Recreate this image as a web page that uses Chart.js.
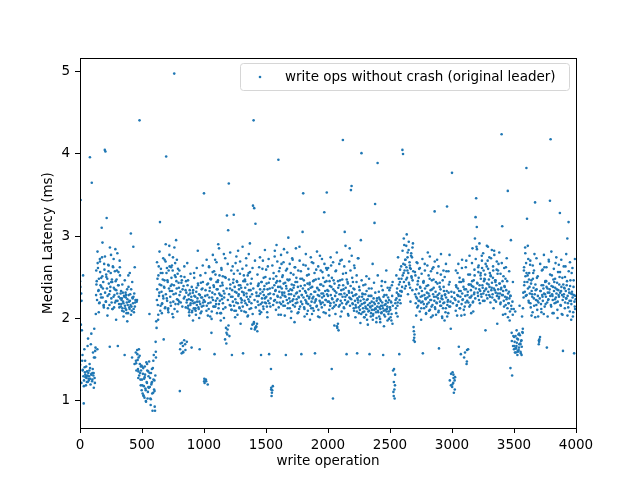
<!DOCTYPE html>
<html>
<head>
<meta charset="utf-8">
<script src="https://cdn.jsdelivr.net/npm/chart.js@4.4.1/dist/chart.umd.min.js"></script>
<style>
  html, body { margin: 0; padding: 0; background: #fff; }
  #wrap { width: 640px; height: 480px; position: relative; }
</style>
</head>
<body>
<div id="wrap"><canvas id="chart-latency"></canvas></div>
<script>
/* ============================
   DATA (median latency in ms, sampled write ops)
   ============================ */
const opStep = 5;
const wideStep = 10;
const segmentSize = 500;
const xTicks = [0, 500, 1000, 1500, 2000, 2500, 3000, 3500, 4000];
const yTicks = [1, 2, 3, 4, 5];
const seriesLabel = 'write ops without crash (original leader)';

// first sample of each 5-op window
// ops 0 - 495
const latency0 = [2.45,3.44,2.30,1.85,1.55,2.52,0.96,1.62,1.34,1.28,1.41,1.22,1.30,1.75,1.26,1.36,3.96,1.19,1.31,3.65,
  1.25,1.58,1.33,1.87,1.21,1.64,2.28,2.45,1.62,2.61,2.34,2.18,2.72,2.40,2.25,3.10,2.51,2.36,2.15,2.66,
  4.05,4.03,2.20,3.22,2.48,2.12,2.57,2.29,1.65,2.38,2.77,2.19,2.44,2.63,2.26,2.13,2.35,2.84,2.21,2.47,
  2.30,1.66,2.56,2.17,2.70,2.24,2.14,2.22,2.09,2.31,2.18,2.27,1.55,2.12,2.25,2.06,2.35,2.16,2.52,2.20,
  2.11,2.29,3.03,2.14,1.52,2.24,2.87,2.07,1.44,2.19,1.58,1.36,2.22,1.49,1.27,1.62,4.41,1.33,1.18,1.42];
// ops 500 - 995
const latency1 = [1.25,1.08,1.39,1.17,1.03,1.31,1.12,1.46,1.21,1.02,1.35,1.15,2.05,1.27,0.94,1.19,1.38,0.87,1.09,1.55,
  1.24,0.87,1.71,1.96,2.22,2.48,1.98,2.63,2.31,3.17,2.15,2.40,2.06,2.55,2.27,1.74,2.37,2.12,2.69,3.97,
  2.24,2.46,2.10,2.58,2.88,2.33,2.19,2.62,2.41,2.05,2.74,2.29,4.98,2.52,2.17,2.95,2.36,2.08,2.60,2.43,
  2.20,1.11,2.32,2.51,1.57,2.14,1.66,2.39,1.73,2.26,1.61,2.45,2.19,2.67,2.12,2.28,2.07,2.34,2.16,2.22,
  1.64,2.09,2.31,2.18,2.55,2.11,2.26,2.04,2.37,2.20,2.82,2.13,2.29,1.62,2.17,2.43,2.08,2.25,2.64,2.15];
// ops 1000 - 1495
const latency2 = [3.52,1.21,2.27,1.25,2.09,2.41,1.19,2.18,2.63,2.33,2.02,2.47,1.82,2.25,2.56,2.14,2.38,1.56,2.71,2.21,
  2.44,2.06,2.35,2.90,2.17,2.52,2.28,1.97,2.61,2.23,2.40,2.11,2.78,2.30,1.74,2.49,1.69,3.25,1.86,3.07,
  3.64,1.78,2.36,2.15,2.58,1.55,2.26,2.43,3.26,2.09,2.32,2.67,2.19,2.45,2.04,2.82,2.29,2.13,2.54,1.93,
  2.37,2.22,2.60,1.57,2.31,2.08,2.47,2.18,2.73,2.26,2.41,2.03,2.55,2.20,2.91,2.34,2.12,2.48,1.92,3.37,
  4.41,3.34,1.86,3.15,1.90,2.27,1.84,2.39,2.16,2.62,2.05,2.30,1.55,2.44,2.19,2.70,2.11,2.35,2.24,2.50];
// ops 1500 - 1995
const latency3 = [2.18,2.42,2.07,2.63,2.29,1.56,2.36,2.14,1.38,1.05,1.12,1.17,2.48,2.21,2.75,2.33,2.10,2.89,2.45,2.26,
  3.93,2.57,2.19,2.38,2.04,2.66,2.31,2.52,2.15,2.84,2.27,2.43,1.55,2.36,2.60,2.12,2.98,2.29,2.47,2.20,
  2.55,2.08,2.34,2.71,2.23,2.40,1.95,2.62,2.18,2.49,2.31,2.06,2.58,2.25,2.87,2.14,2.39,1.56,2.28,3.05,
  3.52,2.46,2.11,2.33,2.64,2.20,2.05,2.42,2.17,2.53,2.26,1.98,2.37,2.12,2.68,2.24,2.45,2.09,2.32,1.57,
  2.21,2.59,2.15,2.36,2.02,2.48,2.27,2.76,2.19,2.41,2.13,2.56,2.30,2.07,3.29,2.44,2.22,2.61,3.53,2.34];
// ops 2000 - 2495
const latency4 = [2.27,2.52,2.10,2.39,2.18,2.64,1.38,2.23,1.02,2.46,2.14,2.33,2.05,2.58,2.21,1.88,1.93,1.85,2.40,2.16,
  2.70,2.29,2.08,2.47,4.17,2.35,2.12,3.05,2.26,2.55,1.56,2.19,2.42,2.03,2.31,2.85,2.24,3.56,3.61,2.49,
  2.17,2.36,2.09,2.61,2.28,2.13,2.44,1.57,2.22,2.73,2.06,2.34,2.15,2.95,4.01,2.26,2.07,2.40,2.18,2.01,
  2.29,2.12,2.51,1.98,2.23,2.08,2.36,1.56,2.14,2.02,2.27,2.10,2.66,2.05,2.19,3.16,3.39,2.11,1.95,2.24,
  3.89,2.07,2.32,2.13,1.99,2.21,2.06,2.45,2.15,1.55,2.09,2.28,2.02,2.17,2.58,2.11,1.97,2.25,2.08,2.34];
// ops 2500 - 2995
const latency5 = [2.13,2.01,2.19,2.40,1.93,1.36,1.05,1.13,1.18,2.22,2.06,2.31,2.15,2.74,2.27,1.56,2.44,2.18,2.63,2.32,
  4.05,4.00,2.55,2.89,2.36,2.71,2.47,3.02,2.58,2.29,2.83,2.41,2.64,2.20,2.76,2.49,2.34,2.91,1.89,1.76,
  1.71,2.52,2.26,2.68,2.13,2.45,2.21,2.60,2.08,2.37,2.19,2.54,2.27,1.57,2.43,2.12,2.66,2.24,2.05,2.39,
  2.17,2.80,2.30,2.09,2.48,2.22,2.57,2.14,2.35,2.03,2.62,2.26,3.30,2.11,2.44,2.19,2.71,2.28,2.07,1.63,
  2.38,2.15,2.53,2.24,2.02,2.46,2.18,2.33,1.97,2.29,2.12,2.57,3.36,2.20,2.06,2.41,2.77,2.14,1.87,2.32];
// ops 3000 - 3495
const latency6 = [3.77,1.34,1.21,1.09,2.24,1.28,2.09,2.38,2.16,2.55,2.27,1.65,2.44,2.12,2.33,2.03,2.61,2.22,2.47,2.10,
  2.35,1.58,2.19,2.70,1.47,2.28,1.62,2.41,2.14,2.53,2.25,2.06,2.39,2.85,2.20,2.46,2.31,2.97,3.23,3.46,
  3.11,2.42,2.27,2.64,2.35,2.18,2.52,2.29,2.76,2.40,2.21,2.58,2.33,2.47,1.85,2.36,2.63,2.24,2.87,2.41,
  2.28,2.55,2.19,2.73,2.37,2.25,2.49,2.12,2.82,2.34,2.44,2.20,2.59,1.93,2.30,2.66,2.26,2.42,2.17,2.35,
  4.24,3.12,2.28,2.51,2.14,2.38,2.05,2.62,2.23,2.45,3.55,2.18,2.32,1.97,2.27,2.95,2.11,1.30,2.04,1.78];
// ops 3500 - 3995
const latency7 = [1.62,1.71,2.08,1.58,1.66,1.75,1.60,1.80,1.64,2.15,1.69,1.57,1.73,2.02,1.82,2.31,2.58,2.44,2.86,2.27,
  3.83,3.21,2.52,2.72,2.19,2.38,2.65,2.13,2.46,2.29,2.07,2.55,2.24,2.78,3.41,2.34,2.16,2.49,2.21,2.02,
  1.68,1.74,1.77,2.33,2.11,2.58,2.26,2.40,2.05,2.62,2.29,2.17,2.45,1.64,2.36,2.22,2.71,2.31,3.43,4.18,
  2.14,2.52,2.27,2.38,2.06,2.44,2.23,2.67,2.19,2.35,2.10,2.56,2.28,2.41,3.28,2.16,2.33,2.05,2.49,1.60,
  2.26,2.37,2.12,2.63,2.24,2.40,2.97,2.18,3.17,2.31,2.08,2.46,2.21,2.55,2.29,2.02,2.38,1.57,2.14,2.27];

// second sample of each 5-op window (offset 2.5 ops)
const latency0b = [2.38,1.92,2.21,1.48,1.37,1.29,1.24,1.40,1.31,1.18,1.27,1.35,1.22,1.33,1.29,1.44,1.26,1.68,1.32,1.23,
  1.38,1.30,1.52,1.27,1.60,2.05,2.41,2.22,2.67,2.33,2.48,2.19,2.56,2.29,2.38,2.74,2.25,2.44,2.13,2.59,
  2.31,2.20,2.50,2.36,2.27,2.65,2.42,2.16,2.33,2.55,2.24,2.47,2.11,2.62,2.37,2.28,2.19,2.45,2.34,2.58,
  2.21,2.40,2.26,2.13,2.52,2.30,2.17,2.24,2.12,2.20,2.08,2.26,2.15,2.31,2.10,2.19,2.23,2.06,2.28,2.13,
  2.21,2.16,2.35,2.09,2.25,2.18,2.11,2.30,2.14,2.22,1.45,2.20,1.56,1.38,1.52,1.30,1.44,1.25,1.36,1.12];
const latency1b = [1.18,1.32,1.05,1.26,1.41,1.14,0.98,1.22,1.36,1.10,1.29,1.47,1.16,1.02,1.33,1.21,1.08,1.39,1.25,1.13,
  0.92,1.30,1.52,1.88,2.35,2.16,2.52,2.27,2.41,2.09,2.60,2.32,2.18,2.47,2.24,2.38,2.71,2.13,2.29,2.55,
  2.21,2.44,2.07,2.36,2.63,2.26,2.15,2.49,2.33,2.58,2.20,2.40,2.11,2.67,2.30,2.45,2.23,2.54,2.17,2.37,
  2.28,1.62,2.19,2.43,1.70,2.35,1.58,2.24,2.50,1.68,2.13,2.31,2.22,2.40,2.15,2.23,2.10,2.30,2.18,2.26,
  2.07,2.21,2.34,2.12,2.27,2.19,2.09,2.32,2.16,2.24,2.40,2.11,2.20,2.28,2.06,2.25,2.14,2.36,2.19,2.22];
const latency2b = [1.26,2.20,2.34,1.23,2.15,2.28,2.42,2.11,2.25,2.37,2.19,2.48,2.08,2.31,2.22,2.40,2.14,2.29,2.53,2.17,
  2.35,2.24,2.46,2.12,2.30,2.21,2.39,2.06,2.27,2.43,2.18,2.33,2.25,2.50,2.13,1.88,2.36,1.80,2.22,1.91,
  2.29,2.16,2.41,2.26,2.10,2.34,2.20,2.47,2.15,2.38,2.23,2.09,2.31,2.44,2.18,2.27,2.35,2.12,2.40,2.24,
  2.19,2.32,2.14,2.45,2.28,2.21,2.37,2.07,2.30,2.16,2.52,2.23,2.34,2.11,2.26,2.42,2.18,2.29,2.05,2.36,
  1.95,2.22,1.88,2.13,2.31,1.93,2.20,2.40,2.27,2.09,2.35,2.17,2.44,2.24,2.32,2.14,2.28,2.39,2.19,2.25];
const latency3b = [2.26,2.14,2.35,2.21,2.43,2.18,2.30,2.24,1.15,1.09,2.37,2.16,2.29,2.40,2.22,2.34,2.51,2.19,2.27,2.38,
  2.13,2.32,2.45,2.25,2.17,2.36,2.28,2.20,2.42,2.31,2.15,2.26,2.39,2.22,2.47,2.18,2.33,2.24,2.12,2.35,
  2.29,2.41,2.21,2.16,2.37,2.27,2.14,2.44,2.30,2.23,2.19,2.38,2.26,2.11,2.33,2.48,2.20,2.28,2.17,2.36,
  2.25,2.13,2.40,2.22,2.31,2.18,2.27,2.09,2.35,2.24,2.43,2.15,2.29,2.20,2.38,2.12,2.26,2.46,2.19,2.32,
  2.23,2.14,2.37,2.28,2.10,2.34,2.21,2.41,2.17,2.30,2.25,2.19,2.39,2.27,2.16,2.33,2.22,2.45,2.29,2.20];
const latency4b = [2.33,2.20,2.45,2.15,2.28,2.38,2.24,2.12,2.35,2.19,2.42,2.27,2.16,2.31,1.90,2.23,2.37,2.14,2.29,2.46,
  2.21,2.34,2.18,2.26,2.40,2.13,2.30,2.22,2.37,2.17,2.28,2.44,2.20,2.33,2.25,2.15,2.39,2.23,2.31,2.18,
  2.27,2.12,2.35,2.21,2.16,2.29,2.08,2.24,2.19,2.13,2.26,2.10,2.21,2.05,2.17,2.30,2.12,2.23,2.08,2.19,
  2.14,2.04,2.22,2.11,2.16,2.27,2.09,2.18,2.13,2.06,2.20,2.15,2.03,2.24,2.10,2.17,2.12,2.07,2.21,2.14,
  2.09,2.18,2.02,2.23,2.11,2.15,2.07,2.19,2.12,2.26,2.04,2.16,2.10,2.21,2.08,2.14,2.19,2.05,2.22,2.13];
const latency5b = [2.10,2.20,2.05,2.27,2.15,1.10,1.38,1.02,2.18,2.12,2.24,2.36,2.19,2.29,2.41,2.22,2.33,2.27,2.48,2.38,
  2.52,2.66,2.44,2.58,2.71,2.39,2.62,2.49,2.80,2.55,2.43,2.68,2.37,2.60,2.51,2.74,2.46,2.57,1.84,1.80,
  2.29,2.18,2.35,2.24,2.41,2.15,2.30,2.21,2.38,2.26,2.12,2.33,2.20,2.44,2.17,2.28,2.36,2.23,2.14,2.31,
  2.25,2.40,2.19,2.27,2.10,2.34,2.22,2.46,2.16,2.29,2.37,2.21,2.13,2.32,2.26,2.18,2.42,2.24,2.09,2.30,
  2.20,2.35,2.15,2.27,2.23,2.12,2.38,2.19,2.28,2.07,2.25,2.33,2.16,2.22,2.31,2.14,1.24,2.20,1.32,2.26];
const latency6b = [1.19,2.18,1.27,2.31,1.13,2.22,2.40,2.15,2.28,2.36,2.20,2.33,2.12,2.26,2.44,2.17,2.30,2.23,2.38,1.52,
  2.14,2.27,2.35,1.44,2.21,2.32,2.19,2.41,2.25,2.16,2.34,2.27,2.45,2.19,2.38,2.29,2.52,2.24,2.36,2.87,
  2.43,2.31,2.56,2.22,2.40,2.33,2.48,2.26,2.61,2.37,2.30,2.45,2.21,2.53,2.35,2.28,2.42,2.70,2.32,2.47,
  2.38,2.26,2.51,2.34,2.43,2.29,2.58,2.36,2.22,2.46,2.31,2.40,2.27,2.54,2.35,2.24,2.42,2.30,2.19,2.37,
  2.28,2.45,2.33,2.21,2.39,2.26,2.16,2.34,2.25,2.12,2.30,2.18,2.24,2.08,2.27,2.15,1.72,2.20,1.66,2.11];
const latency7b = [1.66,1.58,1.78,1.63,1.70,1.55,1.74,1.61,1.68,1.79,1.59,1.72,1.65,1.83,2.12,2.25,2.40,2.32,2.51,2.67,
  2.28,2.44,2.36,2.21,2.55,2.30,2.18,2.42,2.33,2.26,2.48,2.37,2.15,2.29,2.41,2.22,2.35,2.10,2.27,2.19,
  1.71,2.24,2.33,2.17,2.40,2.28,2.21,2.36,2.30,2.14,2.45,2.26,2.38,2.19,2.31,2.23,2.42,2.35,2.27,2.16,
  2.39,2.29,2.22,2.47,2.33,2.18,2.37,2.25,2.30,2.43,2.20,2.34,2.26,2.50,2.31,2.15,2.38,2.28,2.22,2.41,
  2.29,2.36,2.19,2.33,2.24,2.45,2.27,2.13,2.35,2.21,2.39,2.30,2.17,2.32,2.25,2.07,2.28,2.20,2.11,2.23];

// wider-spread samples, one per 10 ops (offset 1.25 ops)
const latency0c = [1.43,1.21,1.36,1.17,1.48,1.29,1.66,1.24,1.39,1.81,1.33,1.15,1.52,
  2.58,2.81,2.07,2.69,2.49,2.92,2.16,2.75,2.53,2.03,2.64,2.86,2.44,2.11,2.72,2.57,1.98,2.79,2.40,2.62,
  2.33,2.41,2.02,2.46,2.28,1.96,2.38,2.55,2.04,2.44,2.26,2.62,1.48,1.61,1.35,1.54,1.41];
const latency1c = [1.41,1.06,1.28,0.99,1.44,1.16,1.33,1.01,1.22,1.48,1.11,1.59,
  2.68,2.04,2.81,2.55,2.17,2.73,2.46,2.90,2.61,2.12,2.77,2.39,2.64,2.01,2.86,2.50,2.71,2.22,
  2.58,1.69,2.46,1.59,2.63,2.34,1.71,2.46,2.03,2.54,2.38,1.97,2.49,2.12,2.61,2.42,2.00,2.52,2.35,2.44];
const latency2c = [1.23,2.55,2.71,2.03,2.62,2.48,1.99,2.77,2.57,2.14,2.68,2.44,2.85,2.06,2.59,2.51,2.00,2.73,1.82,2.66,
  2.47,2.80,2.10,2.63,2.54,2.01,2.75,2.58,2.40,2.69,2.09,2.87,2.52,2.45,2.64,2.02,2.78,2.56,1.87,2.61,
  1.93,2.70,1.89,2.53,2.42,2.74,2.07,2.60,2.49,2.83];
const latency3c = [2.59,2.01,2.72,2.48,1.13,2.64,2.55,2.82,2.43,2.69,2.04,2.61,2.77,2.50,2.68,2.03,2.58,2.80,2.46,2.66,
  2.00,2.73,2.53,2.62,2.85,2.44,2.07,2.70,2.57,2.48,2.65,2.02,2.78,2.52,2.60,2.41,2.74,2.05,2.67,2.55,
  2.47,2.81,2.63,2.01,2.58,2.72,2.49,2.66,2.06,2.59];
const latency4c = [2.61,2.03,2.74,2.49,2.68,1.91,2.57,2.80,2.45,2.66,2.02,2.71,2.54,2.63,2.88,2.47,2.05,2.69,2.58,2.76,
  2.44,2.64,2.01,2.52,2.73,2.38,1.94,2.46,2.29,2.01,2.41,2.33,1.92,2.48,2.27,2.36,1.98,2.43,2.31,2.00,
  2.52,2.25,1.95,2.39,2.34,1.90,2.44,2.28,2.37,1.99];
const latency5c = [2.37,1.97,2.44,1.22,1.31,2.52,2.02,2.48,2.59,2.33,2.82,2.97,2.65,2.88,2.74,2.93,2.61,2.79,2.86,1.73,
  2.56,2.03,2.67,2.49,2.61,1.98,2.72,2.45,2.58,2.06,2.64,2.52,2.75,2.01,2.60,2.47,2.69,2.04,2.55,2.63,
  2.43,2.78,2.00,2.58,2.50,2.66,2.02,2.57,2.44,1.18];
const latency6c = [1.16,1.31,1.24,2.58,2.03,2.66,2.49,1.56,2.71,2.45,2.04,2.62,1.61,2.53,2.76,2.41,2.67,2.08,2.59,2.72,
  2.84,2.62,2.91,2.55,2.70,2.79,2.48,2.66,2.88,2.60,2.74,2.52,2.83,2.63,2.77,2.46,2.69,2.58,2.80,2.54,
  2.67,2.04,2.61,2.48,2.73,2.01,2.57,1.39,1.82,2.44];
const latency7c = [1.77,1.63,1.85,1.59,1.81,1.68,1.55,1.87,
  2.62,2.79,2.55,2.88,2.47,2.70,2.03,2.64,2.58,2.01,2.73,2.51,1.73,2.66,2.07,2.59,2.77,2.44,2.62,2.02,
  2.69,2.53,2.81,2.06,2.60,2.48,2.74,2.00,2.65,2.56,2.71,2.04,2.63,2.50,2.78,2.03,2.57,2.68,1.98,2.61,2.46,2.72];

const firstSamples = [latency0, latency1, latency2, latency3, latency4, latency5, latency6, latency7];
const secondSamples = [latency0b, latency1b, latency2b, latency3b, latency4b, latency5b, latency6b, latency7b];
const wideSamples = [latency0c, latency1c, latency2c, latency3c, latency4c, latency5c, latency6c, latency7c];

/* ============================
   CHART SETUP
   ============================ */
const BLUE = '#1f77b4';
const FONT = 'DejaVu Sans';

function buildPoints() {
  const pts = [];
  firstSamples.forEach((seg, s) => {
    const base = s * segmentSize;
    seg.forEach((v, i) => pts.push({ x: base + i * opStep, y: v }));
    secondSamples[s].forEach((v, i) => pts.push({ x: base + i * opStep + opStep / 2, y: v }));
    wideSamples[s].forEach((v, i) => pts.push({ x: base + i * wideStep + 1.25, y: v }));
  });
  return pts;
}

// matplotlib-style closed frame and boxed legend inside the axes
const framePlugin = {
  id: 'frame',
  afterDraw(chart) {
    const { ctx, chartArea: a } = chart;
    ctx.save();
    ctx.strokeStyle = '#000';
    ctx.lineWidth = 1;
    ctx.strokeRect(Math.round(a.left) + 0.5, Math.round(a.top) + 0.5, Math.round(a.right - a.left), Math.round(a.bottom - a.top));

    // legend box
    const bx = 240.5, by = 63.5, bw = 329, bh = 27, r = 3;
    ctx.beginPath();
    ctx.moveTo(bx + r, by);
    ctx.arcTo(bx + bw, by, bx + bw, by + bh, r);
    ctx.arcTo(bx + bw, by + bh, bx, by + bh, r);
    ctx.arcTo(bx, by + bh, bx, by, r);
    ctx.arcTo(bx, by, bx + bw, by, r);
    ctx.closePath();
    ctx.fillStyle = 'rgba(255,255,255,0.8)';
    ctx.fill();
    ctx.strokeStyle = '#d6d6d6';
    ctx.stroke();

    ctx.fillStyle = BLUE;
    ctx.beginPath();
    ctx.arc(260, 77, 1.3, 0, Math.PI * 2);
    ctx.fill();

    ctx.fillStyle = '#000';
    ctx.font = `13.5px "${FONT}"`;
    ctx.textBaseline = 'middle';
    ctx.textAlign = 'left';
    ctx.fillText(seriesLabel, 285, 77);
    ctx.restore();
  }
};

const axisStyle = {
  grid: { display: true, drawOnChartArea: false, drawTicks: true, tickLength: 5, color: '#000', lineWidth: 1 },
  border: { display: true, color: '#000', width: 1 },
  ticks: { color: '#000', font: { size: 13.5, family: FONT }, padding: 4, maxRotation: 0, autoSkip: false, callback: v => String(v) }
};

new Chart(document.getElementById('chart-latency'), {
  type: 'scatter',
  data: {
    datasets: [{
      label: seriesLabel,
      data: buildPoints(),
      backgroundColor: BLUE,
      borderWidth: 0,
      pointRadius: 1.3,
      pointHoverRadius: 1.3
    }]
  },
  options: {
    responsive: true,
    maintainAspectRatio: false,
    devicePixelRatio: 1,
    animation: false,
    layout: { padding: { top: 58, right: 64, bottom: 0, left: 0 } },
    plugins: { legend: { display: false }, tooltip: { enabled: false } },
    scales: {
      x: {
        ...axisStyle,
        type: 'linear',
        min: 0,
        max: 4000,
        afterBuildTicks: (scale) => { scale.ticks = xTicks.map(v => ({ value: v })); },
        afterFit: (scale) => { scale.height = 52; },
        title: { display: true, text: 'write operation', color: '#000', font: { size: 13.5, family: FONT }, padding: { top: 0, bottom: 10 } }
      },
      y: {
        ...axisStyle,
        type: 'linear',
        min: 0.66,
        max: 5.17,
        ticks: { ...axisStyle.ticks, padding: 5 },
        afterBuildTicks: (scale) => { scale.ticks = yTicks.map(v => ({ value: v })); },
        afterFit: (scale) => { scale.width = 80; },
        title: { display: true, text: 'Median Latency (ms)', color: '#000', font: { size: 13.5, family: FONT }, padding: { top: 40, bottom: 0 } }
      }
    }
  },
  plugins: [framePlugin]
});
</script>
</body>
</html>
